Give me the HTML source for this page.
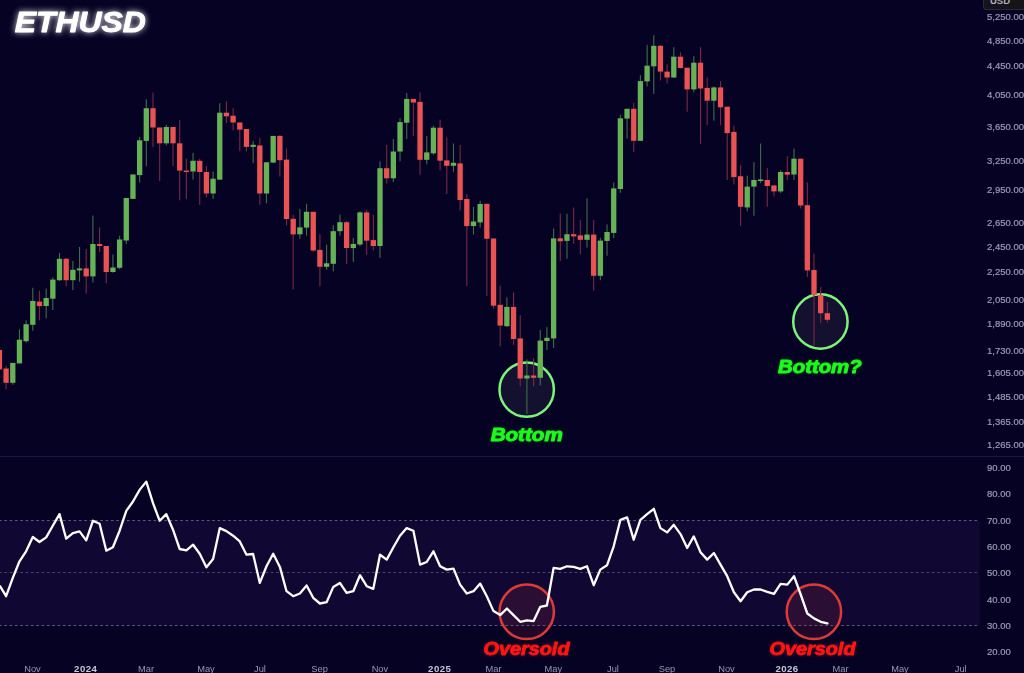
<!DOCTYPE html>
<html><head><meta charset="utf-8"><title>ETHUSD</title>
<style>
html,body{margin:0;padding:0;background:#060224;}
body{width:1024px;height:673px;overflow:hidden;position:relative;font-family:"Liberation Sans",sans-serif;}
svg{position:absolute;left:0;top:0;display:block}
.ax{font-family:"Liberation Sans",sans-serif;font-size:9.5px;fill:#9d9bb6;stroke:#9d9bb6;stroke-width:0.2px}
.mo{font-family:"Liberation Sans",sans-serif;font-size:9.3px;fill:#9997b0;}
.axb{font-family:"Liberation Sans",sans-serif;font-size:9.6px;font-weight:bold;fill:#c9c8d8;letter-spacing:0.45px}
.ttl{font-family:"Liberation Sans",sans-serif;font-weight:bold;font-style:italic;}
</style></head><body>
<svg width="1024" height="673" viewBox="0 0 1024 673">
<defs>
<filter id="soft" x="-5%" y="-5%" width="110%" height="110%"><feGaussianBlur stdDeviation="0.55"/></filter>
<filter id="soft2" x="-2%" y="-2%" width="104%" height="104%"><feGaussianBlur stdDeviation="0.3"/></filter>
<filter id="glowW" x="-30%" y="-80%" width="160%" height="260%"><feGaussianBlur stdDeviation="3.4" result="b"/><feComponentTransfer in="b" result="b2"><feFuncA type="linear" slope="0.85"/></feComponentTransfer><feGaussianBlur in="SourceGraphic" stdDeviation="0.5" result="s"/><feMerge><feMergeNode in="b2"/><feMergeNode in="s"/></feMerge></filter>
<filter id="glowS" x="-30%" y="-80%" width="160%" height="260%"><feGaussianBlur stdDeviation="1.8" result="b"/><feComponentTransfer in="b" result="b2"><feFuncA type="linear" slope="0.35"/></feComponentTransfer><feGaussianBlur in="SourceGraphic" stdDeviation="0.45" result="s"/><feMerge><feMergeNode in="b2"/><feMergeNode in="s"/></feMerge></filter>
</defs>
<rect width="1024" height="673" fill="#060224"/>
<!-- RSI panel -->
<rect x="0" y="456" width="1024" height="1" fill="#1b1840"/>
<rect x="0" y="520.5" width="979.6" height="105" fill="#100832"/>
<g stroke="#5c5782" stroke-width="1" stroke-dasharray="2.7 2.63" fill="none">
<line x1="-1" y1="520.5" x2="979.5" y2="520.5"/>
<line x1="-1" y1="572.5" x2="979.5" y2="572.5" stroke="#4b466c"/>
<line x1="-1" y1="625.5" x2="979.5" y2="625.5"/>
</g>
<g filter="url(#soft)">
<circle cx="526.7" cy="389.6" r="27.2" fill="rgba(130,140,150,0.10)" stroke="#7cf47c" stroke-width="2.5"/>
<circle cx="820.4" cy="321.5" r="27.2" fill="rgba(130,140,150,0.10)" stroke="#7cf47c" stroke-width="2.5"/>
</g>
<g filter="url(#soft)">
<rect x="-1.13" y="350.0" width="1.1" height="19.4" fill="#762a45"/><rect x="5.55" y="366.0" width="1.1" height="23.3" fill="#762a45"/><rect x="12.22" y="362.9" width="1.1" height="21.9" fill="#426a50"/><rect x="18.90" y="329.3" width="1.1" height="34.1" fill="#426a50"/><rect x="25.58" y="320.4" width="1.1" height="22.2" fill="#426a50"/><rect x="32.26" y="287.7" width="1.1" height="43.1" fill="#426a50"/><rect x="38.93" y="290.6" width="1.1" height="29.8" fill="#762a45"/><rect x="45.61" y="288.6" width="1.1" height="29.7" fill="#426a50"/><rect x="52.29" y="277.3" width="1.1" height="32.7" fill="#426a50"/><rect x="58.96" y="252.9" width="1.1" height="28.1" fill="#426a50"/><rect x="65.64" y="258.0" width="1.1" height="28.2" fill="#762a45"/><rect x="72.32" y="260.9" width="1.1" height="29.1" fill="#426a50"/><rect x="78.99" y="247.0" width="1.1" height="34.7" fill="#426a50"/><rect x="85.67" y="249.0" width="1.1" height="44.6" fill="#762a45"/><rect x="92.35" y="215.5" width="1.1" height="67.1" fill="#426a50"/><rect x="99.03" y="227.3" width="1.1" height="24.7" fill="#762a45"/><rect x="105.70" y="246.0" width="1.1" height="37.2" fill="#762a45"/><rect x="112.38" y="254.4" width="1.1" height="18.4" fill="#426a50"/><rect x="119.06" y="235.7" width="1.1" height="33.5" fill="#426a50"/><rect x="125.73" y="198.0" width="1.1" height="46.0" fill="#426a50"/><rect x="132.41" y="174.5" width="1.1" height="24.5" fill="#426a50"/><rect x="139.09" y="137.0" width="1.1" height="45.5" fill="#426a50"/><rect x="145.76" y="99.3" width="1.1" height="66.9" fill="#426a50"/><rect x="152.44" y="92.5" width="1.1" height="54.4" fill="#762a45"/><rect x="159.12" y="127.5" width="1.1" height="53.5" fill="#762a45"/><rect x="165.79" y="124.6" width="1.1" height="20.8" fill="#426a50"/><rect x="172.47" y="127.0" width="1.1" height="39.0" fill="#762a45"/><rect x="179.15" y="120.0" width="1.1" height="80.4" fill="#762a45"/><rect x="185.83" y="158.8" width="1.1" height="40.1" fill="#762a45"/><rect x="192.50" y="152.8" width="1.1" height="26.8" fill="#426a50"/><rect x="199.18" y="158.8" width="1.1" height="46.0" fill="#762a45"/><rect x="205.86" y="166.0" width="1.1" height="31.4" fill="#762a45"/><rect x="212.53" y="171.5" width="1.1" height="27.4" fill="#426a50"/><rect x="219.21" y="103.2" width="1.1" height="76.8" fill="#426a50"/><rect x="225.89" y="101.4" width="1.1" height="21.7" fill="#762a45"/><rect x="232.56" y="108.2" width="1.1" height="22.3" fill="#762a45"/><rect x="239.24" y="122.5" width="1.1" height="28.8" fill="#762a45"/><rect x="245.92" y="129.0" width="1.1" height="22.3" fill="#762a45"/><rect x="252.60" y="141.0" width="1.1" height="22.2" fill="#426a50"/><rect x="259.27" y="138.0" width="1.1" height="66.8" fill="#762a45"/><rect x="265.95" y="162.3" width="1.1" height="41.0" fill="#426a50"/><rect x="272.63" y="135.9" width="1.1" height="27.1" fill="#426a50"/><rect x="279.30" y="135.0" width="1.1" height="41.6" fill="#762a45"/><rect x="285.98" y="148.4" width="1.1" height="77.2" fill="#762a45"/><rect x="292.66" y="214.9" width="1.1" height="74.5" fill="#762a45"/><rect x="299.33" y="209.0" width="1.1" height="29.9" fill="#426a50"/><rect x="306.01" y="203.8" width="1.1" height="31.8" fill="#426a50"/><rect x="312.69" y="211.8" width="1.1" height="40.2" fill="#762a45"/><rect x="319.37" y="234.1" width="1.1" height="52.0" fill="#762a45"/><rect x="326.04" y="244.5" width="1.1" height="25.3" fill="#426a50"/><rect x="332.72" y="225.2" width="1.1" height="46.1" fill="#426a50"/><rect x="339.40" y="214.6" width="1.1" height="21.1" fill="#426a50"/><rect x="346.07" y="221.0" width="1.1" height="42.9" fill="#762a45"/><rect x="352.75" y="238.0" width="1.1" height="23.8" fill="#426a50"/><rect x="359.43" y="211.2" width="1.1" height="34.8" fill="#426a50"/><rect x="366.10" y="209.8" width="1.1" height="45.1" fill="#762a45"/><rect x="372.78" y="214.8" width="1.1" height="35.7" fill="#762a45"/><rect x="379.46" y="161.3" width="1.1" height="96.6" fill="#426a50"/><rect x="386.14" y="145.0" width="1.1" height="38.6" fill="#762a45"/><rect x="392.81" y="139.0" width="1.1" height="43.1" fill="#426a50"/><rect x="399.49" y="118.2" width="1.1" height="43.1" fill="#426a50"/><rect x="406.17" y="93.0" width="1.1" height="46.0" fill="#426a50"/><rect x="412.84" y="98.9" width="1.1" height="37.1" fill="#762a45"/><rect x="419.52" y="92.4" width="1.1" height="82.3" fill="#762a45"/><rect x="426.20" y="136.0" width="1.1" height="28.3" fill="#426a50"/><rect x="432.88" y="125.7" width="1.1" height="29.1" fill="#426a50"/><rect x="439.55" y="119.7" width="1.1" height="50.5" fill="#762a45"/><rect x="446.23" y="137.5" width="1.1" height="56.5" fill="#762a45"/><rect x="452.91" y="143.5" width="1.1" height="28.2" fill="#426a50"/><rect x="459.58" y="145.0" width="1.1" height="65.4" fill="#762a45"/><rect x="466.26" y="194.0" width="1.1" height="92.0" fill="#762a45"/><rect x="472.94" y="207.0" width="1.1" height="27.5" fill="#426a50"/><rect x="479.61" y="200.8" width="1.1" height="26.7" fill="#426a50"/><rect x="486.29" y="203.8" width="1.1" height="92.1" fill="#762a45"/><rect x="492.97" y="238.5" width="1.1" height="70.2" fill="#762a45"/><rect x="499.64" y="285.5" width="1.1" height="60.9" fill="#762a45"/><rect x="506.32" y="297.4" width="1.1" height="29.7" fill="#426a50"/><rect x="513.00" y="292.3" width="1.1" height="52.6" fill="#762a45"/><rect x="519.68" y="315.2" width="1.1" height="71.0" fill="#762a45"/><rect x="526.35" y="359.4" width="1.1" height="54.4" fill="#426a50"/><rect x="533.03" y="358.2" width="1.1" height="28.0" fill="#762a45"/><rect x="539.71" y="330.0" width="1.1" height="55.3" fill="#426a50"/><rect x="546.38" y="327.1" width="1.1" height="22.9" fill="#426a50"/><rect x="553.06" y="228.5" width="1.1" height="119.4" fill="#426a50"/><rect x="559.74" y="213.4" width="1.1" height="47.5" fill="#762a45"/><rect x="566.41" y="213.7" width="1.1" height="45.0" fill="#426a50"/><rect x="573.09" y="207.5" width="1.1" height="36.3" fill="#762a45"/><rect x="579.77" y="220.0" width="1.1" height="34.2" fill="#762a45"/><rect x="586.45" y="198.4" width="1.1" height="49.1" fill="#426a50"/><rect x="593.12" y="220.0" width="1.1" height="70.6" fill="#762a45"/><rect x="599.80" y="237.9" width="1.1" height="42.3" fill="#426a50"/><rect x="606.48" y="224.5" width="1.1" height="31.2" fill="#426a50"/><rect x="613.15" y="182.5" width="1.1" height="55.5" fill="#426a50"/><rect x="619.83" y="114.7" width="1.1" height="78.2" fill="#426a50"/><rect x="626.51" y="108.8" width="1.1" height="29.7" fill="#426a50"/><rect x="633.18" y="102.8" width="1.1" height="49.0" fill="#762a45"/><rect x="639.86" y="75.2" width="1.1" height="65.8" fill="#426a50"/><rect x="646.54" y="44.9" width="1.1" height="41.6" fill="#426a50"/><rect x="653.22" y="35.3" width="1.1" height="58.6" fill="#426a50"/><rect x="659.89" y="45.0" width="1.1" height="35.5" fill="#762a45"/><rect x="666.57" y="64.2" width="1.1" height="19.3" fill="#762a45"/><rect x="673.25" y="47.2" width="1.1" height="30.8" fill="#426a50"/><rect x="679.92" y="52.3" width="1.1" height="16.3" fill="#762a45"/><rect x="686.60" y="67.7" width="1.1" height="44.0" fill="#762a45"/><rect x="693.28" y="56.2" width="1.1" height="36.2" fill="#426a50"/><rect x="699.95" y="47.2" width="1.1" height="96.6" fill="#762a45"/><rect x="706.63" y="77.5" width="1.1" height="47.6" fill="#762a45"/><rect x="713.31" y="86.5" width="1.1" height="34.1" fill="#426a50"/><rect x="719.99" y="81.1" width="1.1" height="44.0" fill="#762a45"/><rect x="726.66" y="106.7" width="1.1" height="73.3" fill="#762a45"/><rect x="733.34" y="125.7" width="1.1" height="58.8" fill="#762a45"/><rect x="740.02" y="165.2" width="1.1" height="60.9" fill="#762a45"/><rect x="746.69" y="175.6" width="1.1" height="35.7" fill="#426a50"/><rect x="753.37" y="162.2" width="1.1" height="53.5" fill="#426a50"/><rect x="760.05" y="143.5" width="1.1" height="39.5" fill="#426a50"/><rect x="766.72" y="168.2" width="1.1" height="38.6" fill="#762a45"/><rect x="773.40" y="185.4" width="1.1" height="11.0" fill="#762a45"/><rect x="780.08" y="170.3" width="1.1" height="22.6" fill="#426a50"/><rect x="786.76" y="156.3" width="1.1" height="23.7" fill="#762a45"/><rect x="793.43" y="148.5" width="1.1" height="31.5" fill="#426a50"/><rect x="800.11" y="158.7" width="1.1" height="49.8" fill="#762a45"/><rect x="806.79" y="182.3" width="1.1" height="94.7" fill="#762a45"/><rect x="813.46" y="253.6" width="1.1" height="92.1" fill="#762a45"/><rect x="820.14" y="287.0" width="1.1" height="36.2" fill="#762a45"/><rect x="826.82" y="301.8" width="1.1" height="20.8" fill="#762a45"/>
<rect x="-3.23" y="350.0" width="5.3" height="19.4" fill="#ea5252"/><rect x="3.45" y="368.5" width="5.3" height="14.3" fill="#ea5252"/><rect x="10.12" y="362.9" width="5.3" height="19.9" fill="#66b257"/><rect x="16.80" y="339.7" width="5.3" height="23.7" fill="#66b257"/><rect x="23.48" y="324.2" width="5.3" height="17.0" fill="#66b257"/><rect x="30.16" y="301.0" width="5.3" height="23.8" fill="#66b257"/><rect x="36.83" y="301.6" width="5.3" height="4.5" fill="#ea5252"/><rect x="43.51" y="298.0" width="5.3" height="8.0" fill="#66b257"/><rect x="50.19" y="279.6" width="5.3" height="19.1" fill="#66b257"/><rect x="56.86" y="258.8" width="5.3" height="21.4" fill="#66b257"/><rect x="63.54" y="258.8" width="5.3" height="21.4" fill="#ea5252"/><rect x="70.22" y="269.8" width="5.3" height="10.4" fill="#66b257"/><rect x="76.89" y="268.4" width="5.3" height="2.0" fill="#66b257"/><rect x="83.57" y="268.4" width="5.3" height="8.0" fill="#ea5252"/><rect x="90.25" y="244.0" width="5.3" height="32.4" fill="#66b257"/><rect x="96.92" y="244.0" width="5.3" height="2.0" fill="#ea5252"/><rect x="103.60" y="246.0" width="5.3" height="26.0" fill="#ea5252"/><rect x="110.28" y="267.5" width="5.3" height="4.5" fill="#66b257"/><rect x="116.96" y="239.5" width="5.3" height="28.3" fill="#66b257"/><rect x="123.63" y="198.0" width="5.3" height="42.5" fill="#66b257"/><rect x="130.31" y="174.5" width="5.3" height="24.4" fill="#66b257"/><rect x="136.99" y="140.3" width="5.3" height="34.8" fill="#66b257"/><rect x="143.66" y="108.2" width="5.3" height="32.7" fill="#66b257"/><rect x="150.34" y="108.2" width="5.3" height="19.3" fill="#ea5252"/><rect x="157.02" y="127.5" width="5.3" height="15.8" fill="#ea5252"/><rect x="163.69" y="127.0" width="5.3" height="16.3" fill="#66b257"/><rect x="170.37" y="127.0" width="5.3" height="16.3" fill="#ea5252"/><rect x="177.05" y="143.3" width="5.3" height="27.3" fill="#ea5252"/><rect x="183.73" y="170.6" width="5.3" height="1.4" fill="#ea5252"/><rect x="190.40" y="160.8" width="5.3" height="10.7" fill="#66b257"/><rect x="197.08" y="160.8" width="5.3" height="11.2" fill="#ea5252"/><rect x="203.76" y="172.0" width="5.3" height="21.5" fill="#ea5252"/><rect x="210.43" y="178.7" width="5.3" height="14.8" fill="#66b257"/><rect x="217.11" y="112.7" width="5.3" height="66.9" fill="#66b257"/><rect x="223.79" y="112.7" width="5.3" height="3.6" fill="#ea5252"/><rect x="230.46" y="115.7" width="5.3" height="6.8" fill="#ea5252"/><rect x="237.14" y="122.5" width="5.3" height="7.1" fill="#ea5252"/><rect x="243.82" y="129.0" width="5.3" height="17.9" fill="#ea5252"/><rect x="250.50" y="144.8" width="5.3" height="2.1" fill="#66b257"/><rect x="257.17" y="145.4" width="5.3" height="48.1" fill="#ea5252"/><rect x="263.85" y="162.3" width="5.3" height="31.2" fill="#66b257"/><rect x="270.53" y="135.9" width="5.3" height="26.7" fill="#66b257"/><rect x="277.20" y="135.9" width="5.3" height="24.3" fill="#ea5252"/><rect x="283.88" y="159.6" width="5.3" height="59.4" fill="#ea5252"/><rect x="290.56" y="218.8" width="5.3" height="15.6" fill="#ea5252"/><rect x="297.24" y="227.4" width="5.3" height="6.9" fill="#66b257"/><rect x="303.91" y="211.8" width="5.3" height="15.8" fill="#66b257"/><rect x="310.59" y="211.8" width="5.3" height="38.7" fill="#ea5252"/><rect x="317.27" y="249.9" width="5.3" height="16.9" fill="#ea5252"/><rect x="323.94" y="263.3" width="5.3" height="3.5" fill="#66b257"/><rect x="330.62" y="231.2" width="5.3" height="32.6" fill="#66b257"/><rect x="337.30" y="222.2" width="5.3" height="9.0" fill="#66b257"/><rect x="343.97" y="222.2" width="5.3" height="25.8" fill="#ea5252"/><rect x="350.65" y="243.9" width="5.3" height="4.2" fill="#66b257"/><rect x="357.33" y="212.4" width="5.3" height="32.1" fill="#66b257"/><rect x="364.00" y="212.4" width="5.3" height="28.3" fill="#ea5252"/><rect x="370.68" y="240.1" width="5.3" height="5.9" fill="#ea5252"/><rect x="377.36" y="168.2" width="5.3" height="77.8" fill="#66b257"/><rect x="384.04" y="168.2" width="5.3" height="10.1" fill="#ea5252"/><rect x="390.71" y="151.5" width="5.3" height="26.8" fill="#66b257"/><rect x="397.39" y="122.1" width="5.3" height="29.4" fill="#66b257"/><rect x="404.07" y="98.9" width="5.3" height="23.8" fill="#66b257"/><rect x="410.74" y="98.9" width="5.3" height="3.6" fill="#ea5252"/><rect x="417.42" y="101.9" width="5.3" height="57.9" fill="#ea5252"/><rect x="424.10" y="152.4" width="5.3" height="7.4" fill="#66b257"/><rect x="430.78" y="127.7" width="5.3" height="25.6" fill="#66b257"/><rect x="437.45" y="127.7" width="5.3" height="33.0" fill="#ea5252"/><rect x="444.13" y="160.4" width="5.3" height="5.4" fill="#ea5252"/><rect x="450.81" y="162.8" width="5.3" height="3.0" fill="#66b257"/><rect x="457.48" y="163.4" width="5.3" height="36.6" fill="#ea5252"/><rect x="464.16" y="199.0" width="5.3" height="27.1" fill="#ea5252"/><rect x="470.84" y="221.5" width="5.3" height="4.5" fill="#66b257"/><rect x="477.51" y="204.0" width="5.3" height="18.4" fill="#66b257"/><rect x="484.19" y="203.8" width="5.3" height="35.0" fill="#ea5252"/><rect x="490.87" y="238.5" width="5.3" height="67.2" fill="#ea5252"/><rect x="497.55" y="304.8" width="5.3" height="20.8" fill="#ea5252"/><rect x="504.22" y="306.9" width="5.3" height="19.3" fill="#66b257"/><rect x="510.90" y="306.9" width="5.3" height="32.1" fill="#ea5252"/><rect x="517.58" y="338.4" width="5.3" height="40.1" fill="#ea5252"/><rect x="524.25" y="375.5" width="5.3" height="3.0" fill="#66b257"/><rect x="530.93" y="375.5" width="5.3" height="2.3" fill="#ea5252"/><rect x="537.61" y="340.6" width="5.3" height="37.2" fill="#66b257"/><rect x="544.28" y="337.8" width="5.3" height="3.2" fill="#66b257"/><rect x="550.96" y="238.4" width="5.3" height="100.0" fill="#66b257"/><rect x="557.64" y="238.3" width="5.3" height="3.0" fill="#ea5252"/><rect x="564.31" y="234.2" width="5.3" height="6.7" fill="#66b257"/><rect x="570.99" y="234.2" width="5.3" height="2.2" fill="#ea5252"/><rect x="577.67" y="235.4" width="5.3" height="4.4" fill="#ea5252"/><rect x="584.35" y="234.6" width="5.3" height="5.2" fill="#66b257"/><rect x="591.02" y="234.6" width="5.3" height="41.2" fill="#ea5252"/><rect x="597.70" y="240.6" width="5.3" height="35.2" fill="#66b257"/><rect x="604.38" y="232.0" width="5.3" height="8.9" fill="#66b257"/><rect x="611.05" y="188.4" width="5.3" height="44.5" fill="#66b257"/><rect x="617.73" y="118.3" width="5.3" height="70.7" fill="#66b257"/><rect x="624.41" y="108.8" width="5.3" height="9.8" fill="#66b257"/><rect x="631.08" y="108.8" width="5.3" height="32.0" fill="#ea5252"/><rect x="637.76" y="81.1" width="5.3" height="59.7" fill="#66b257"/><rect x="644.44" y="65.7" width="5.3" height="15.7" fill="#66b257"/><rect x="651.12" y="45.8" width="5.3" height="20.5" fill="#66b257"/><rect x="657.79" y="45.8" width="5.3" height="25.8" fill="#ea5252"/><rect x="664.47" y="71.6" width="5.3" height="5.9" fill="#ea5252"/><rect x="671.15" y="56.7" width="5.3" height="20.8" fill="#66b257"/><rect x="677.82" y="56.7" width="5.3" height="11.3" fill="#ea5252"/><rect x="684.50" y="67.7" width="5.3" height="21.7" fill="#ea5252"/><rect x="691.18" y="62.7" width="5.3" height="26.7" fill="#66b257"/><rect x="697.85" y="62.7" width="5.3" height="25.8" fill="#ea5252"/><rect x="704.53" y="87.9" width="5.3" height="12.8" fill="#ea5252"/><rect x="711.21" y="87.4" width="5.3" height="13.3" fill="#66b257"/><rect x="717.89" y="87.4" width="5.3" height="19.9" fill="#ea5252"/><rect x="724.56" y="106.7" width="5.3" height="26.4" fill="#ea5252"/><rect x="731.24" y="131.9" width="5.3" height="45.2" fill="#ea5252"/><rect x="737.92" y="176.2" width="5.3" height="30.6" fill="#ea5252"/><rect x="744.59" y="186.6" width="5.3" height="20.8" fill="#66b257"/><rect x="751.27" y="180.0" width="5.3" height="6.6" fill="#66b257"/><rect x="757.95" y="179.5" width="5.3" height="1.5" fill="#66b257"/><rect x="764.62" y="180.0" width="5.3" height="6.0" fill="#ea5252"/><rect x="771.30" y="185.4" width="5.3" height="6.0" fill="#ea5252"/><rect x="777.98" y="172.0" width="5.3" height="19.4" fill="#66b257"/><rect x="784.66" y="172.0" width="5.3" height="2.7" fill="#ea5252"/><rect x="791.33" y="158.7" width="5.3" height="15.8" fill="#66b257"/><rect x="798.01" y="158.7" width="5.3" height="46.8" fill="#ea5252"/><rect x="804.69" y="205.2" width="5.3" height="65.2" fill="#ea5252"/><rect x="811.36" y="269.9" width="5.3" height="25.1" fill="#ea5252"/><rect x="818.04" y="295.0" width="5.3" height="18.2" fill="#ea5252"/><rect x="824.72" y="313.2" width="5.3" height="6.6" fill="#ea5252"/>
</g>
<!-- rsi circles -->
<g filter="url(#soft)">
<circle cx="526.7" cy="611.8" r="27.2" fill="rgba(190,45,70,0.15)" stroke="#dc3b37" stroke-width="2.5"/>
<circle cx="813.9" cy="611.8" r="27.2" fill="rgba(190,45,70,0.15)" stroke="#dc3b37" stroke-width="2.5"/>
</g>
<polyline points="0.0,586.2 6.1,596.2 12.8,577.9 19.5,561.3 26.1,551.3 32.8,537.0 39.5,542.0 46.2,537.4 52.8,525.7 59.5,514.1 66.2,538.7 72.9,533.1 79.5,531.4 86.2,540.4 92.9,520.8 99.6,523.8 106.3,550.7 112.9,547.3 119.6,530.7 126.3,510.8 133.0,501.5 139.6,489.9 146.3,481.6 153.0,503.2 159.7,520.8 166.3,514.1 173.0,529.7 179.7,549.0 186.4,550.3 193.1,544.7 199.7,553.7 206.4,567.3 213.1,559.0 219.8,528.1 226.4,531.1 233.1,535.7 239.8,541.4 246.5,554.7 253.1,554.0 259.8,582.9 266.5,566.3 273.2,553.7 279.9,566.9 286.5,591.2 293.2,596.2 299.9,593.5 306.6,585.5 313.2,597.8 319.9,603.5 326.6,602.2 333.3,586.9 339.9,582.9 346.6,592.9 353.3,591.2 360.0,575.2 366.7,586.2 373.3,588.9 380.0,554.7 386.7,559.6 393.4,547.3 400.0,535.7 406.7,528.1 413.4,530.7 420.1,564.6 426.7,562.0 433.4,551.3 440.1,566.3 446.8,569.6 453.5,568.6 460.1,584.6 466.8,593.5 473.5,591.2 480.2,583.6 486.8,596.2 493.5,611.1 500.2,615.1 506.9,608.5 513.5,615.1 520.2,621.8 526.9,620.4 533.6,621.1 540.3,606.8 546.9,605.5 553.6,567.9 560.3,568.9 567.0,566.3 573.6,566.9 580.3,568.9 587.0,566.3 593.7,585.2 600.3,569.6 607.0,565.3 613.7,546.3 620.4,519.8 627.1,517.4 633.7,539.7 640.4,519.8 647.1,514.1 653.8,508.8 660.4,528.1 667.1,532.4 673.8,524.8 680.5,534.1 687.2,548.0 693.8,536.4 700.5,552.3 707.2,559.6 713.9,553.0 720.5,564.6 727.2,576.2 733.9,592.2 740.6,601.2 747.2,592.2 753.9,589.5 760.6,589.5 767.3,591.9 774.0,593.9 780.6,583.9 787.3,584.6 794.0,576.2 800.7,594.5 807.3,613.5 814.0,618.4 820.7,621.8 827.4,623.4" fill="none" stroke="#ffffff" stroke-width="2.3" stroke-linejoin="round" stroke-linecap="round" filter="url(#soft)"/>
<!-- annotations -->
<g filter="url(#glowS)" stroke-linejoin="round">
<text x="526.7" y="440.8" text-anchor="middle" class="ttl" font-size="18" fill="#1cfa1c" stroke="#1cfa1c" stroke-width="0.9" textLength="72" lengthAdjust="spacingAndGlyphs">Bottom</text>
<text x="819.8" y="372.9" text-anchor="middle" class="ttl" font-size="18" fill="#1cfa1c" stroke="#1cfa1c" stroke-width="0.9" textLength="83.5" lengthAdjust="spacingAndGlyphs">Bottom?</text>
<text x="526.5" y="655.4" text-anchor="middle" class="ttl" font-size="18" fill="#fa1414" stroke="#fa1414" stroke-width="0.9" textLength="86" lengthAdjust="spacingAndGlyphs">Oversold</text>
<text x="812.5" y="655.4" text-anchor="middle" class="ttl" font-size="18" fill="#fa1414" stroke="#fa1414" stroke-width="0.9" textLength="86" lengthAdjust="spacingAndGlyphs">Oversold</text>
</g>
<text x="14.8" y="32.2" class="ttl" font-size="30" fill="#ffffff" stroke="#ffffff" stroke-width="0.9" stroke-linejoin="round" textLength="131" lengthAdjust="spacingAndGlyphs" filter="url(#glowW)">ETHUSD</text>
<!-- USD box -->
<rect x="983.5" y="-6" width="50" height="15.6" rx="2.5" fill="#14141a" stroke="#2c2c36" stroke-width="1"/>
<text x="990" y="3.8" font-family="Liberation Sans, sans-serif" font-weight="bold" font-size="9.5" fill="#b0b0b4">USD</text>
<g filter="url(#soft2)"><text x="987.0" y="20.4" class="ax">5,250.00</text><text x="987.0" y="44.3" class="ax">4,850.00</text><text x="987.0" y="69.2" class="ax">4,450.00</text><text x="987.0" y="98.2" class="ax">4,050.00</text><text x="987.0" y="129.6" class="ax">3,650.00</text><text x="987.0" y="163.7" class="ax">3,250.00</text><text x="987.0" y="192.7" class="ax">2,950.00</text><text x="987.0" y="225.8" class="ax">2,650.00</text><text x="987.0" y="249.6" class="ax">2,450.00</text><text x="987.0" y="274.5" class="ax">2,250.00</text><text x="987.0" y="302.5" class="ax">2,050.00</text><text x="987.0" y="327.4" class="ax">1,890.00</text><text x="987.0" y="353.7" class="ax">1,730.00</text><text x="987.0" y="375.9" class="ax">1,605.00</text><text x="987.0" y="399.8" class="ax">1,485.00</text><text x="987.0" y="424.7" class="ax">1,365.00</text><text x="987.0" y="447.9" class="ax">1,265.00</text><text x="987.0" y="471.1" class="ax">90.00</text><text x="987.0" y="497.2" class="ax">80.00</text><text x="987.0" y="523.5" class="ax">70.00</text><text x="987.0" y="549.8" class="ax">60.00</text><text x="987.0" y="576.3" class="ax">50.00</text><text x="987.0" y="602.6" class="ax">40.00</text><text x="987.0" y="628.6" class="ax">30.00</text><text x="987.0" y="654.9" class="ax">20.00</text><text x="32.5" y="671.8" text-anchor="middle" class="mo">Nov</text><text x="85.7" y="671.8" text-anchor="middle" class="axb">2024</text><text x="146" y="671.8" text-anchor="middle" class="mo">Mar</text><text x="206" y="671.8" text-anchor="middle" class="mo">May</text><text x="260" y="671.8" text-anchor="middle" class="mo">Jul</text><text x="319.6" y="671.8" text-anchor="middle" class="mo">Sep</text><text x="379.9" y="671.8" text-anchor="middle" class="mo">Nov</text><text x="439.7" y="671.8" text-anchor="middle" class="axb">2025</text><text x="493.5" y="671.8" text-anchor="middle" class="mo">Mar</text><text x="553.3" y="671.8" text-anchor="middle" class="mo">May</text><text x="613" y="671.8" text-anchor="middle" class="mo">Jul</text><text x="667" y="671.8" text-anchor="middle" class="mo">Sep</text><text x="726.5" y="671.8" text-anchor="middle" class="mo">Nov</text><text x="787" y="671.8" text-anchor="middle" class="axb">2026</text><text x="840.5" y="671.8" text-anchor="middle" class="mo">Mar</text><text x="900" y="671.8" text-anchor="middle" class="mo">May</text><text x="960.7" y="671.8" text-anchor="middle" class="mo">Jul</text></g>
</svg>
</body></html>
